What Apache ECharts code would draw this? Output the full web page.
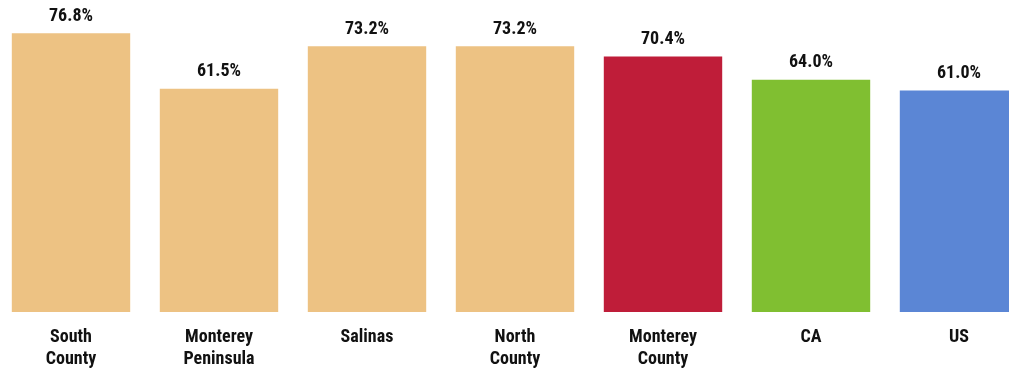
<!DOCTYPE html>
<html>
<head>
<meta charset="utf-8">
<script src="https://cdn.jsdelivr.net/npm/echarts@6/dist/echarts.min.js"></script>
<style>
html,body{margin:0;padding:0;background:#fff;overflow:hidden;width:1009px;height:370px;}
#chart{width:1036px;height:370px;margin-left:-3px;}
</style>
</head>
<body>
<div id="chart"></div>
<script>
const categories = ['South\nCounty', 'Monterey\nPeninsula', 'Salinas', 'North\nCounty', 'Monterey\nCounty', 'CA', 'US'];
const values = [76.8, 61.5, 73.2, 73.2, 70.4, 64.0, 61.0];
const barColors = ['#EDC283', '#EDC283', '#EDC283', '#EDC283', '#BF1D39', '#80BF31', '#5B86D5'];

const FONT = '"Roboto Condensed", "Liberation Sans", Arial, sans-serif';
const chart = echarts.init(document.getElementById('chart'));
chart.setOption({
  animation: false,
  grid: { left: 0, right: 0, top: 21.6, bottom: 58, containLabel: false },
  xAxis: {
    type: 'category',
    data: categories,
    axisLine: { show: false },
    axisTick: { show: false },
    axisLabel: {
      interval: 0,
      margin: 14,
      color: '#111',
      fontFamily: FONT,
      fontWeight: 'bold',
      fontSize: 18,
      lineHeight: 22
    }
  },
  yAxis: {
    type: 'value',
    min: 0,
    max: 80,
    show: false,
    splitLine: { show: false }
  },
  series: [{
    type: 'bar',
    barCategoryGap: '20%',
    data: values.map((v, i) => ({ value: v, itemStyle: { color: barColors[i] } })),
    label: {
      show: true,
      position: 'top',
      distance: 8,
      color: '#111',
      fontFamily: FONT,
      fontWeight: 'bold',
      fontSize: 18,
      formatter: p => p.value.toFixed(1) + '%'
    }
  }]
});
</script>
</body>
</html>
